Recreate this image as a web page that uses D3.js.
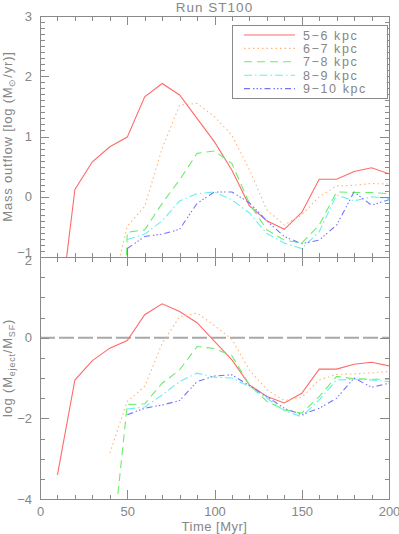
<!DOCTYPE html>
<html>
<head>
<meta charset="utf-8">
<script src="https://cdn.jsdelivr.net/npm/d3@7"></script>
<style>
  html, body { margin: 0; padding: 0; background: #fff; }
  svg { display: block; }
  text { font-family: "Liberation Sans", Arial, sans-serif; fill: #868686; }
  .axis path, .axis line { stroke: #8a8a8a; shape-rendering: crispEdges; }
  .axis text { font-size: 13px; }
</style>
</head>
<body>
<svg id="chart" width="399" height="534"></svg>
<script>
const TIMES = [10, 20, 30, 40, 50, 60, 70, 80, 90, 100, 110, 120, 130, 140, 150, 160, 170, 180, 190, 200];

const SHELLS = ['5\u22126 kpc', '6\u22127 kpc', '7\u22128 kpc', '8\u22129 kpc', '9\u221210 kpc'];
const COLORS = ['#ff6a6a', '#ffb47a', '#6aee6a', '#6aeeee', '#7474ff'];
const DASHES = [null, '1.5,3', '8,5', '8,3,1.5,3', '6,3,1.5,2,1.5,2,1.5,3'];

// log mass outflow [Msun/yr], null = no value
const OUT_5_6 = [-2.25, 0.12, 0.58, 0.83, 0.99, 1.66, 1.88, 1.69, 1.30, 0.91, 0.44, -0.15, -0.40, -0.54, -0.26, 0.29, 0.29, 0.42, 0.48, 0.38];
const OUT_6_7 = [null, null, null, -1.7, -0.49, -0.16, 0.80, 1.52, 1.55, 1.33, 1.02, 0.45, -0.22, -0.47, -0.30, 0.00, 0.18, 0.19, 0.22, 0.21];
const OUT_7_8 = [null, null, null, -9.6, -0.59, -0.55, -0.11, 0.28, 0.72, 0.76, 0.55, -0.11, -0.55, -0.72, -0.77, -0.47, 0.08, 0.07, 0.07, 0.05];
const OUT_8_9 = [null, null, null, null, -0.71, -0.62, -0.40, -0.07, 0.05, 0.08, -0.05, -0.27, -0.61, -0.77, -0.86, -0.58, 0.03, -0.07, 0.00, -0.03];
const OUT_9_10 = [null, null, null, null, -0.86, -0.66, -0.62, -0.54, -0.11, 0.08, 0.08, -0.10, -0.40, -0.66, -0.78, -0.72, -0.47, 0.08, -0.14, -0.05];

// log (M_eject / M_SF)
const EJ_5_6 = [-3.40, -1.05, -0.57, -0.26, -0.07, 0.57, 0.84, 0.65, 0.37, -0.09, -0.55, -1.17, -1.46, -1.62, -1.38, -0.78, -0.78, -0.66, -0.61, -0.70];
const EJ_6_7 = [null, null, null, -2.86, -1.58, -1.21, -0.14, 0.52, 0.61, 0.30, -0.04, -0.80, -1.29, -1.56, -1.48, -1.05, -0.91, -0.90, -0.87, -0.84];
const EJ_7_8 = [null, null, null, -5.8, -1.66, -1.64, -1.13, -0.80, -0.22, -0.27, -0.45, -1.17, -1.58, -1.79, -1.87, -1.46, -0.96, -1.02, -1.03, -1.03];
const EJ_8_9 = [null, null, null, null, -1.77, -1.72, -1.42, -1.09, -0.88, -0.98, -1.00, -1.21, -1.50, -1.81, -1.96, -1.54, -1.05, -1.03, -1.05, -1.09];
const EJ_9_10 = [null, null, null, null, -1.91, -1.75, -1.67, -1.56, -1.09, -0.95, -0.92, -1.19, -1.46, -1.75, -1.91, -1.75, -1.50, -1.00, -1.23, -1.13];

const OUT_SERIES = [OUT_5_6, OUT_6_7, OUT_7_8, OUT_8_9, OUT_9_10];
const EJ_SERIES = [EJ_5_6, EJ_6_7, EJ_7_8, EJ_8_9, EJ_9_10];

const svg = d3.select('#chart');
const left = 40, right = 389;
const topY0 = 16, topY1 = 257, botY1 = 499;

const x = d3.scaleLinear().domain([0, 200]).range([left, right]);
const yTop = d3.scaleLinear().domain([-1, 3]).range([topY1, topY0]);
const yBot = d3.scaleLinear().domain([-4, 2]).range([botY1, topY1]);

function range(a, b, s) {
  const out = [];
  for (let v = a; v <= b + 1e-9; v += s) out.push(+v.toFixed(4));
  return out;
}

function drawPanel(y, series, opts) {
  const g = svg.append('g');
  const id = 'clip' + opts.name;
  svg.append('clipPath').attr('id', id)
    .append('rect')
    .attr('x', left).attr('y', y.range()[1])
    .attr('width', right - left).attr('height', y.range()[0] - y.range()[1]);

  const lines = g.append('g').attr('clip-path', `url(#${id})`);

  if (opts.zeroLine) {
    lines.append('line')
      .attr('x1', x(0)).attr('x2', x(200))
      .attr('y1', y(0)).attr('y2', y(0))
      .attr('stroke', '#a8a8a8').attr('stroke-width', 2)
      .attr('stroke-dasharray', '15,4');
  }

  const line = d3.line()
    .defined(d => d.v != null)
    .x(d => x(d.t))
    .y(d => y(d.v));

  series.forEach((vals, i) => {
    const pts = TIMES.map((t, k) => ({ t, v: vals[k] }));
    lines.append('path')
      .attr('d', line(pts))
      .attr('fill', 'none')
      .attr('stroke', COLORS[i])
      .attr('stroke-width', 1.1)
      .attr('stroke-dasharray', DASHES[i]);
  });

  const [yb, yt] = y.range();
  const xMinor = range(0, 200, 10).filter(v => v % 50 !== 0);
  const yMinor = range(y.domain()[0], y.domain()[1], opts.minor)
    .filter(v => Math.abs(v / opts.major - Math.round(v / opts.major)) > 1e-6);

  // bottom axis
  const xb = g.append('g').attr('class', 'axis').attr('transform', `translate(0,${yb})`);
  xb.call(d3.axisBottom(x).tickValues(range(0, 200, 50)).tickSize(-9).tickPadding(8)
    .tickFormat(opts.xLabels ? d3.format('d') : ''));
  xb.append('g').call(d3.axisBottom(x).tickValues(xMinor).tickSize(-4.5).tickFormat(''))
    .select('.domain').remove();
  // top axis
  const xt = g.append('g').attr('class', 'axis').attr('transform', `translate(0,${yt})`);
  xt.call(d3.axisTop(x).tickValues(range(0, 200, 50)).tickSize(-9).tickFormat(''));
  xt.append('g').call(d3.axisTop(x).tickValues(xMinor).tickSize(-4.5).tickFormat(''))
    .select('.domain').remove();

  // left axis
  const yl = g.append('g').attr('class', 'axis').attr('transform', `translate(${left},0)`);
  yl.call(d3.axisLeft(y).tickValues(range(y.domain()[0], y.domain()[1], opts.major))
    .tickSize(-9).tickPadding(8).tickFormat(d => d < 0 ? '\u2212' + Math.abs(d) : d));
  yl.append('g').call(d3.axisLeft(y).tickValues(yMinor).tickSize(-4.5).tickFormat(''))
    .select('.domain').remove();
  // the shared boundary labels: nudge them apart a little
  yl.selectAll('.tick text')
    .attr('dy', d => (opts.name === 'top' && d === -1) ? '-0.05em'
      : (opts.name === 'bot' && d === 2) ? '0.55em' : '0.32em');
  // right axis
  const yr = g.append('g').attr('class', 'axis').attr('transform', `translate(${right},0)`);
  yr.call(d3.axisRight(y).tickValues(range(y.domain()[0], y.domain()[1], opts.major))
    .tickSize(-9).tickFormat(''));
  yr.append('g').call(d3.axisRight(y).tickValues(yMinor).tickSize(-4.5).tickFormat(''))
    .select('.domain').remove();

  svg.selectAll('.axis .tick text').style('fill', '#868686');
  svg.selectAll('.axis path.domain').attr('stroke-width', 1);
}

drawPanel(yTop, OUT_SERIES, { name: 'top', major: 1, minor: 0.1, xLabels: false });
drawPanel(yBot, EJ_SERIES, { name: 'bot', major: 2, minor: 0.5, xLabels: true, zeroLine: true });

// title
svg.append('text')
  .attr('x', (left + right) / 2).attr('y', 12)
  .attr('text-anchor', 'middle')
  .style('font-size', '13.5px').style('letter-spacing', '1px')
  .text('Run ST100');

// x label
svg.append('text')
  .attr('x', (left + right) / 2).attr('y', 531)
  .attr('text-anchor', 'middle')
  .style('font-size', '13px').style('letter-spacing', '0.5px')
  .text('Time [Myr]');

// y labels
const yl1 = svg.append('text')
  .attr('transform', `translate(12,${(topY0 + topY1) / 2}) rotate(-90)`)
  .attr('text-anchor', 'middle')
  .style('font-size', '13px').style('letter-spacing', '0.8px');
yl1.append('tspan').text('Mass outflow [log (M');
yl1.append('tspan').attr('dy', 3).style('font-size', '9px').text('\u2299');
yl1.append('tspan').attr('dy', -3).text('/yr)]');

const yl2 = svg.append('text')
  .attr('transform', `translate(12,368) rotate(-90)`)
  .attr('text-anchor', 'middle')
  .style('font-size', '13px').style('letter-spacing', '0.8px');
yl2.append('tspan').text('log (M');
yl2.append('tspan').attr('dy', 3).style('font-size', '9px').text('eject');
yl2.append('tspan').attr('dy', -3).text('/M');
yl2.append('tspan').attr('dy', 3).style('font-size', '9px').text('SF');
yl2.append('tspan').attr('dy', -3).text(')');

// legend
const lg = svg.append('g');
lg.append('rect')
  .attr('x', 232.5).attr('y', 25.5).attr('width', 155).attr('height', 73)
  .attr('fill', '#fff').attr('stroke', '#8a8a8a');
SHELLS.forEach((name, i) => {
  const yy = 35 + i * 13.4;
  lg.append('line')
    .attr('x1', 244).attr('x2', 295).attr('y1', yy).attr('y2', yy)
    .attr('stroke', COLORS[i]).attr('stroke-width', 1.1)
    .attr('stroke-dasharray', DASHES[i]);
  lg.append('text')
    .attr('x', 303).attr('y', yy + 4.5)
    .style('font-size', '12.5px').style('letter-spacing', '1.6px')
    .text(name);
});
</script>
</body>
</html>
